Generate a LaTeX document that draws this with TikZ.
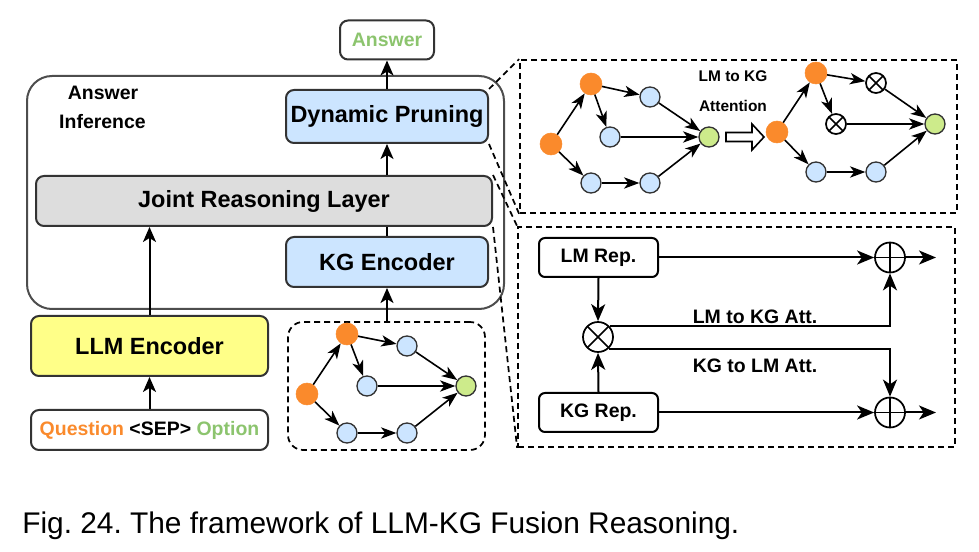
\documentclass[tikz,border=0pt]{standalone}
\usepackage{fontspec}
\setmainfont{Liberation Sans}
\usetikzlibrary{arrows.meta}
\frenchspacing

\definecolor{edge}{HTML}{333333}
\definecolor{frame}{HTML}{4D4D4D}
\definecolor{orangeN}{HTML}{FA8A2C}
\definecolor{blueN}{HTML}{CCE5FF}
\definecolor{greenN}{HTML}{CDEB8B}
\definecolor{greenT}{HTML}{8CC46E}
\definecolor{yellowB}{HTML}{FFFF88}
\definecolor{grayB}{HTML}{DDDDDD}

\newcommand\bigfont{\fontsize{17.6}{20}\selectfont\bfseries}
\newcommand\midfont{\fontsize{14.6}{17}\selectfont\bfseries}
\newcommand\tinyfont{\fontsize{11.6}{14}\selectfont\bfseries}

\tikzset{
  box/.style={draw=edge, line width=1.5pt, rounded corners=4.5pt, inner sep=0pt, align=center},
  dashbox/.style={draw=black, line width=1.3pt, dash pattern=on 4.5pt off 3pt},
  dashlink/.style={draw=black, line width=1.3pt, dash pattern=on 4.5pt off 3pt},
  marr/.style={line width=1.5pt, -{Stealth[length=11.25pt, width=9.75pt, inset=3pt]}},
  garr/.style={line width=1.2pt, -{Stealth[length=11.5pt, width=8.5pt, inset=3.2pt]}},
  barr/.style={line width=1.5pt, -{Stealth[length=12.75pt, width=10.5pt, inset=3.5pt]}},
  onode/.style={circle, fill=orangeN, draw=orangeN, minimum size=16.5pt, inner sep=0pt},
  bnode/.style={circle, fill=blueN, draw=edge, line width=1pt, minimum size=15pt, inner sep=0pt},
  gnode/.style={circle, fill=greenN, draw=edge, line width=1pt, minimum size=15pt, inner sep=0pt},
  xnode/.style={circle, draw=black, fill=white, line width=1.3pt, minimum size=#1, inner sep=0pt,
    path picture={\draw[line width=1.1pt]
      (path picture bounding box.north west) -- (path picture bounding box.south east)
      (path picture bounding box.north east) -- (path picture bounding box.south west);}},
  pnode/.style={circle, draw=black, fill=white, line width=1.3pt, minimum size=22.5pt, inner sep=0pt,
    path picture={\draw[line width=1.1pt]
      (path picture bounding box.north) -- (path picture bounding box.south)
      (path picture bounding box.west) -- (path picture bounding box.east);}},
}

\begin{document}
\begin{tikzpicture}[x=0.75pt, y=-0.75pt]
\useasboundingbox (0,0) rectangle (979,552);

% ---------- main pipeline ----------
\node[box, draw=frame, rounded corners=18.75pt, minimum width=357.75pt, minimum height=174.75pt] (inf) at (265.5,192.5) {};
\node[font=\midfont] (infa) at (103,93) {Answer};
\node[font=\midfont] (infb) at (102.5,122) {Inference};

\node[box, rounded corners=6pt, minimum width=70.5pt, minimum height=29.25pt, font=\midfont, text=greenT] (answer) at (387,40) {Answer};
\node[box, rounded corners=6pt, fill=blueN, minimum width=151.5pt, minimum height=39.75pt, font=\bigfont] (dyn) at (387,116.5) {Dynamic Pruning};
\node[box, rounded corners=6pt, fill=grayB, minimum width=342pt, minimum height=37.5pt, font=\bigfont] (joint) at (264,201) {Joint Reasoning Layer};
\node[box, rounded corners=6pt, fill=blueN, minimum width=151.5pt, minimum height=37.5pt, font=\bigfont] (kgenc) at (387,262) {KG Encoder};
\node[box, rounded corners=6pt, fill=yellowB, minimum width=177.75pt, minimum height=45pt, font=\bigfont] (llm) at (149.5,346) {LLM Encoder};
\node[box, rounded corners=6pt, minimum width=177.75pt, minimum height=30pt, font=\midfont] (qs) at (149.5,430)
  {\textcolor{orangeN}{Question} <SEP> \textcolor{greenT}{Option}};
\node[dashbox, rounded corners=11.25pt, minimum width=147.75pt, minimum height=96pt] (kgbox) at (386.5,386) {};

\draw[marr] (dyn.north) -- (answer.south);
\draw[marr] (joint.north -| dyn.south) -- (dyn.south);
\draw[line width=1.5pt] (kgenc.north) -- (kgenc.north |- joint.south);
\draw[marr] (llm.north) -- (llm.north |- joint.south);
\draw[marr] (qs.north) -- (llm.south);
\draw[marr] (kgbox.north -| kgenc.south) -- (kgenc.south);

% ---------- knowledge subgraph ----------
\node[onode] (ba) at (307,394) {};
\node[onode] (bb) at (347,334) {};
\node[bnode] (bc) at (407,346) {};
\node[bnode] (bd) at (367,386) {};
\node[gnode] (be) at (466,386) {};
\node[bnode] (bf) at (347,433) {};
\node[bnode] (bg) at (407,433) {};
\draw[garr] (ba) -- (bb);
\draw[garr] (ba) -- (bf);
\draw[garr] (bb) -- (bc);
\draw[garr] (bb) -- (bd);
\draw[garr] (bc) -- (be);
\draw[garr] (bd) -- (be);
\draw[garr] (bf) -- (bg);
\draw[garr] (bg) -- (be);

% ---------- pruning panel ----------
\node[dashbox, minimum width=327.75pt, minimum height=114.75pt, inner sep=0pt] (toppanel) at (738.5,136.5) {};
\node[onode] (la) at (551,144) {};
\node[onode] (lb) at (591,84) {};
\node[bnode] (lc) at (650,97) {};
\node[bnode] (ld) at (610,137) {};
\node[gnode] (le) at (709,137) {};
\node[bnode] (lf) at (591,183) {};
\node[bnode] (lg) at (650,183) {};
\draw[garr] (la) -- (lb);
\draw[garr] (la) -- (lf);
\draw[garr] (lb) -- (lc);
\draw[garr] (lb) -- (ld);
\draw[garr] (lc) -- (le);
\draw[garr] (ld) -- (le);
\draw[garr] (lf) -- (lg);
\draw[garr] (lg) -- (le);

\node[font=\tinyfont] (attA) at (733,76) {LM to KG};
\node[font=\tinyfont] (attB) at (733,106) {Attention};
\draw[line width=1.2pt, fill=white, line join=miter]
  (726,132.5) -- (752,132.5) -- (752,124) -- (764,137) -- (752,150) -- (752,141.5) -- (726,141.5) -- cycle;

\node[onode] (ra) at (777,132) {};
\node[onode] (rb) at (816,73) {};
\node[xnode=15pt] (rc) at (876,83) {};
\node[xnode=15pt] (rd) at (836,124) {};
\node[gnode] (re) at (935,124) {};
\node[bnode] (rf) at (816,172) {};
\node[bnode] (rg) at (876,172) {};
\draw[garr] (ra) -- (rb);
\draw[garr] (ra) -- (rf);
\draw[garr] (rb) -- (rc);
\draw[garr] (rb) -- (rd);
\draw[garr] (rc) -- (re);
\draw[garr] (rd) -- (re);
\draw[garr] (rf) -- (rg);
\draw[garr] (rg) -- (re);

% ---------- joint reasoning panel ----------
\node[dashbox, minimum width=327.75pt, minimum height=165pt, inner sep=0pt] (botpanel) at (736.5,337) {};
\node[box, rounded corners=4.5pt, draw=black, minimum width=89.25pt, minimum height=29.25pt, font=\midfont] (lmrep) at (598.5,257.5) {LM Rep.};
\node[box, rounded corners=4.5pt, draw=black, minimum width=89.25pt, minimum height=29.25pt, font=\midfont] (kgrep) at (598.5,412.5) {KG Rep.};
\node[xnode=22.5pt] (ot) at (598,337) {};
\node[pnode] (opT) at (890,257.5) {};
\node[pnode] (opB) at (890,412.5) {};
\coordinate (outT) at (936,257.5);
\coordinate (outB) at (936,412.5);

\draw[barr] (lmrep.east) -- (opT.west);
\draw[barr] (kgrep.east) -- (opB.west);
\draw[barr] (opT.east) -- (outT);
\draw[barr] (opB.east) -- (outB);
\draw[barr] (lmrep.south) -- (ot.north);
\draw[barr] (kgrep.north) -- (ot.south);
\draw[barr] (ot.42) -| (opT.south);
\draw[barr] (ot.-47) -| (opB.north);
\node[font=\midfont] (lk) at (755,317) {LM to KG Att.};
\node[font=\midfont] (kl) at (755,366) {KG to LM Att.};

% ---------- zoom links ----------
\draw[dashlink] (dyn.north east) -- (toppanel.north west);
\draw[dashlink] (dyn.south east) -- (toppanel.south west);
\draw[dashlink] (joint.north east) -- (botpanel.north west);
\draw[dashlink] (joint.south east) -- (botpanel.south west);

% ---------- caption ----------
\node[anchor=base west, inner sep=0pt, font=\fontsize{22.4}{26}\selectfont] (cap) at (22,533)
  {Fig. 24. The framework of LLM-KG Fusion Reasoning.};
\end{tikzpicture}
\end{document}
